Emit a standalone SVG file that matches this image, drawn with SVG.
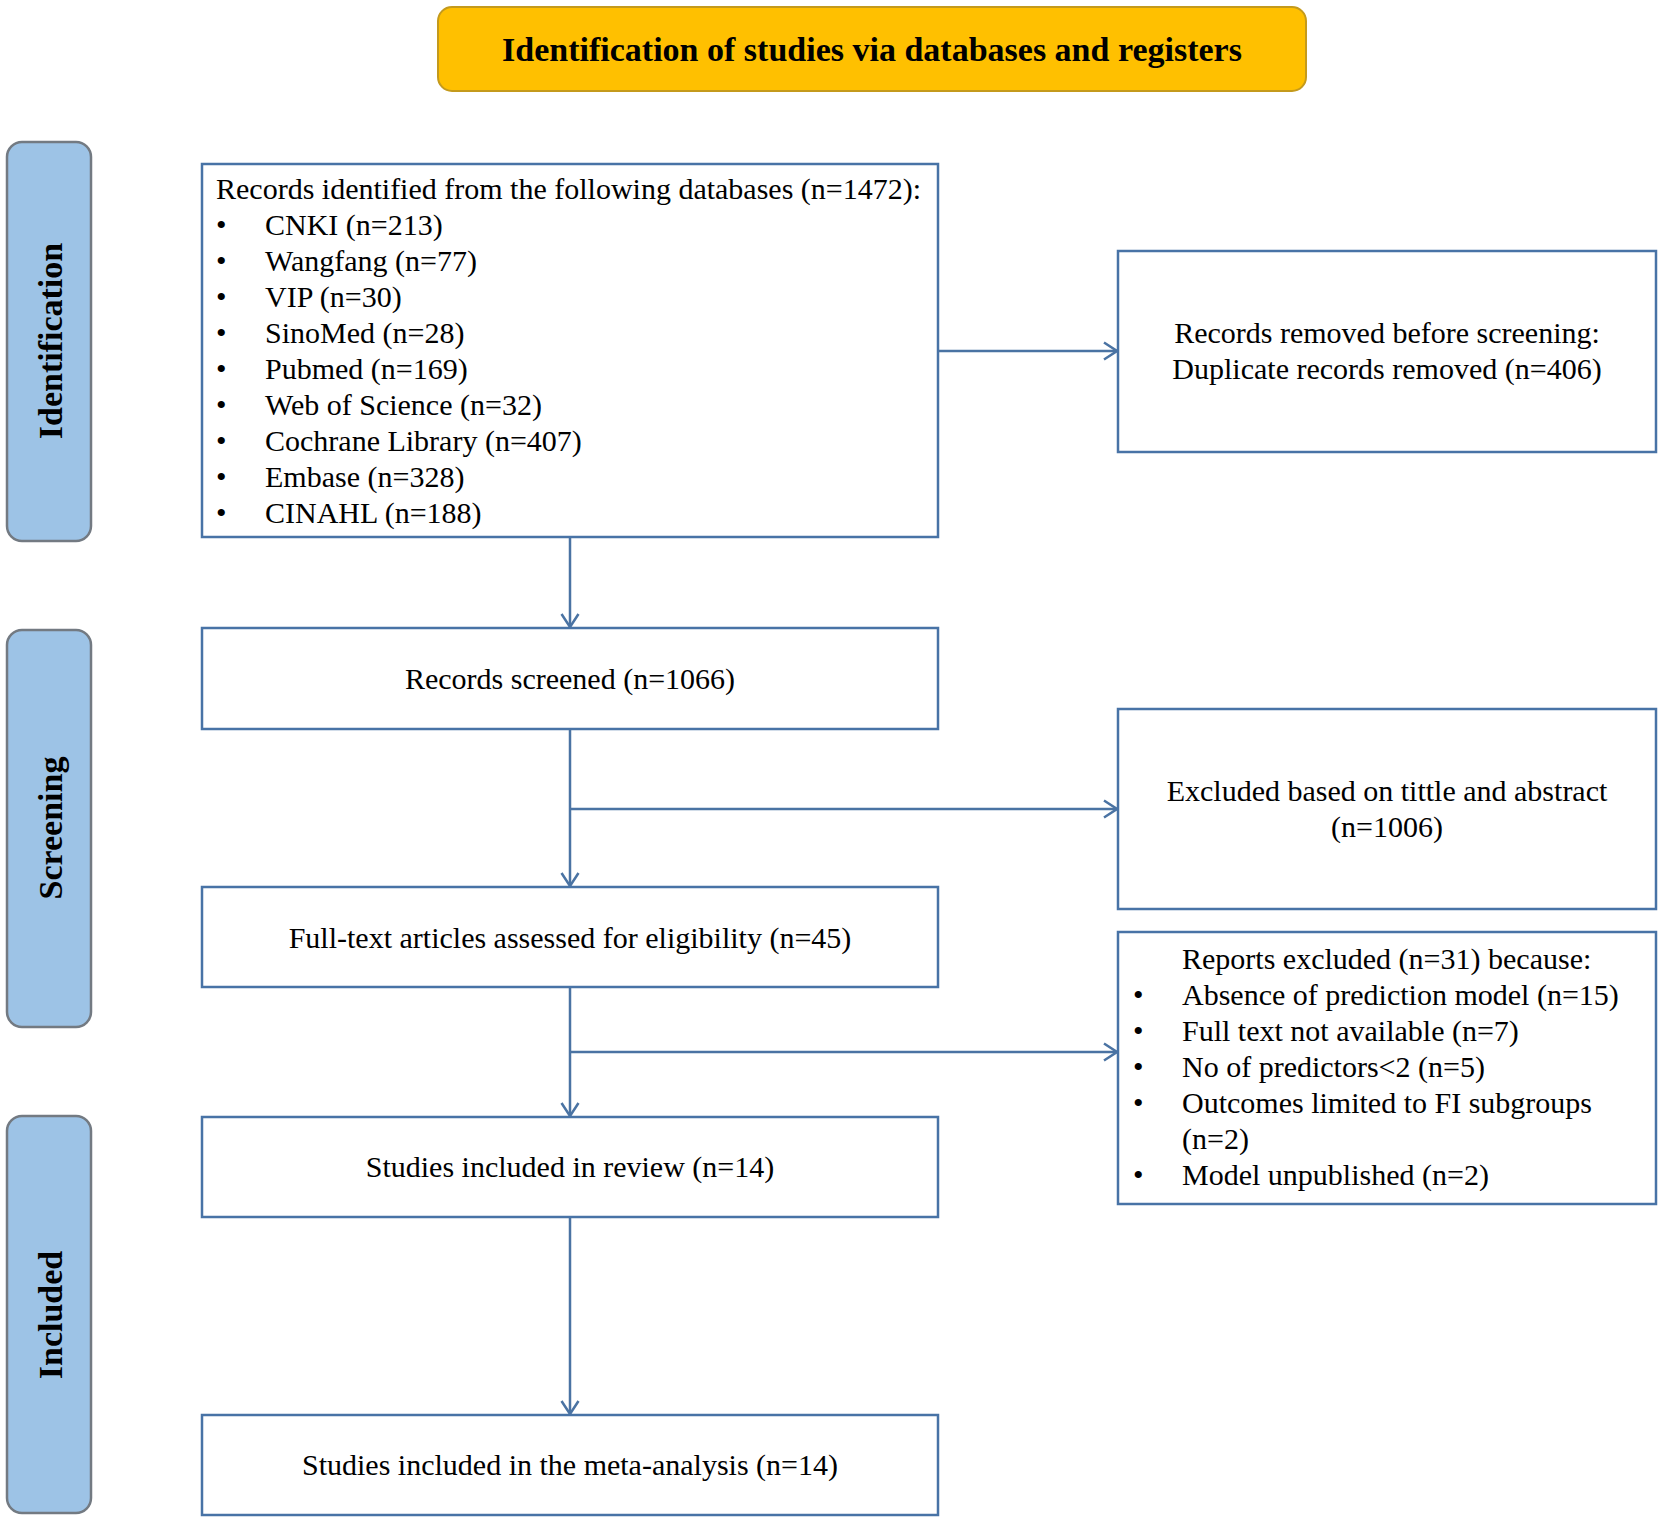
<svg xmlns="http://www.w3.org/2000/svg" width="1665" height="1523" viewBox="0 0 1665 1523">
<defs>
<style>
.box{fill:#ffffff;stroke:#4873a6;stroke-width:2.5}
.side{fill:#9dc3e6;stroke:#737a82;stroke-width:2.5}
.banner{fill:#ffc000;stroke:#c49a1c;stroke-width:2}
.t{font-family:"Liberation Serif","Times New Roman",serif;font-size:30px;fill:#000}
.c{text-anchor:middle}
.b{font-family:"Liberation Serif","Times New Roman",serif;font-size:34px;font-weight:bold;fill:#000;text-anchor:middle}
.conn{stroke:#4a73a3;stroke-width:2.5;fill:none}
</style>
<marker id="arr" markerUnits="userSpaceOnUse" viewBox="0 0 16 20" refX="14" refY="10" markerWidth="16" markerHeight="20" orient="auto">
<path d="M1,1.5 L14,10 L1,18.5" fill="none" stroke="#4a73a3" stroke-width="2.5"/>
</marker>
</defs>
<rect width="1665" height="1523" fill="#ffffff"/>

<g id="banner">
<rect class="banner" x="438" y="7" width="868" height="84" rx="14"/>
<text class="b" x="872" y="61">Identification of studies via databases and registers</text>
</g>

<g id="side-identification">
<rect class="side" x="7" y="142" width="84" height="399" rx="15"/>
<text class="b" transform="translate(62,341) rotate(-90)" x="0" y="0">Identification</text>
</g>
<g id="side-screening">
<rect class="side" x="7" y="630" width="84" height="397" rx="15"/>
<text class="b" transform="translate(62,828) rotate(-90)" x="0" y="0">Screening</text>
</g>
<g id="side-included">
<rect class="side" x="7" y="1116" width="84" height="397" rx="15"/>
<text class="b" transform="translate(62,1315) rotate(-90)" x="0" y="0">Included</text>
</g>

<g id="connectors">
<line class="conn" x1="570" y1="537" x2="570" y2="627" marker-end="url(#arr)"/>
<line class="conn" x1="938" y1="351" x2="1117" y2="351" marker-end="url(#arr)"/>
<line class="conn" x1="570" y1="729" x2="570" y2="886" marker-end="url(#arr)"/>
<line class="conn" x1="570" y1="809" x2="1117" y2="809" marker-end="url(#arr)"/>
<line class="conn" x1="570" y1="987" x2="570" y2="1116" marker-end="url(#arr)"/>
<line class="conn" x1="570" y1="1052" x2="1117" y2="1052" marker-end="url(#arr)"/>
<line class="conn" x1="570" y1="1217" x2="570" y2="1414" marker-end="url(#arr)"/>
</g>

<g id="records-identified">
<rect class="box" x="202" y="164" width="736" height="373"/>
<text class="t" x="216" y="199">Records identified from the following databases (n=1472):</text>
<g class="t">
<text x="216" y="235">•</text><text x="265" y="235">CNKI (n=213)</text>
<text x="216" y="271">•</text><text x="265" y="271">Wangfang (n=77)</text>
<text x="216" y="307">•</text><text x="265" y="307">VIP (n=30)</text>
<text x="216" y="343">•</text><text x="265" y="343">SinoMed (n=28)</text>
<text x="216" y="379">•</text><text x="265" y="379">Pubmed (n=169)</text>
<text x="216" y="415">•</text><text x="265" y="415">Web of Science (n=32)</text>
<text x="216" y="451">•</text><text x="265" y="451">Cochrane Library (n=407)</text>
<text x="216" y="487">•</text><text x="265" y="487">Embase (n=328)</text>
<text x="216" y="523">•</text><text x="265" y="523">CINAHL (n=188)</text>
</g>
</g>

<g id="records-removed">
<rect class="box" x="1118" y="251" width="538" height="201"/>
<text class="t c" x="1387" y="343">Records removed before screening:</text>
<text class="t c" x="1387" y="379">Duplicate records removed (n=406)</text>
</g>

<g id="records-screened">
<rect class="box" x="202" y="628" width="736" height="101"/>
<text class="t c" x="570" y="689">Records screened (n=1066)</text>
</g>

<g id="excluded-title-abstract">
<rect class="box" x="1118" y="709" width="538" height="200"/>
<text class="t c" x="1387" y="801">Excluded based on tittle and abstract</text>
<text class="t c" x="1387" y="837">(n=1006)</text>
</g>

<g id="full-text">
<rect class="box" x="202" y="887" width="736" height="100"/>
<text class="t c" x="570" y="948">Full-text articles assessed for eligibility (n=45)</text>
</g>

<g id="reports-excluded">
<rect class="box" x="1118" y="932" width="538" height="272"/>
<g class="t">
<text x="1182" y="969">Reports excluded (n=31) because:</text>
<text x="1133" y="1005">•</text><text x="1182" y="1005">Absence of prediction model (n=15)</text>
<text x="1133" y="1041">•</text><text x="1182" y="1041">Full text not available (n=7)</text>
<text x="1133" y="1077">•</text><text x="1182" y="1077">No of predictors&lt;2 (n=5)</text>
<text x="1133" y="1113">•</text><text x="1182" y="1113">Outcomes limited to FI subgroups</text>
<text x="1182" y="1149">(n=2)</text>
<text x="1133" y="1185">•</text><text x="1182" y="1185">Model unpublished (n=2)</text>
</g>
</g>

<g id="studies-review">
<rect class="box" x="202" y="1117" width="736" height="100"/>
<text class="t c" x="570" y="1177">Studies included in review (n=14)</text>
</g>

<g id="studies-meta">
<rect class="box" x="202" y="1415" width="736" height="100"/>
<text class="t c" x="570" y="1475">Studies included in the meta-analysis (n=14)</text>
</g>
</svg>
